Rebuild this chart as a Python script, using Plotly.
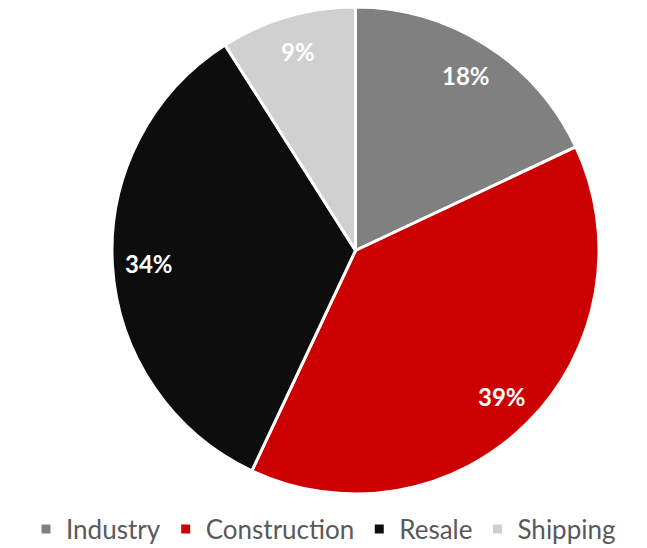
import math
import plotly.graph_objects as go

# Share of revenue by segment
segments = ["Industry", "Construction", "Resale", "Shipping"]
shares = [18, 39, 34, 9]
colors = ["#808080", "#CC0000", "#0D0D0D", "#D0D0D0"]

W, H = 647, 548
# pie placement (pixels)
cx, cy, R = 355.5, 250.5, 243.5
label_r = 0.85

fig = go.Figure(
    go.Pie(
        labels=segments,
        values=shares,
        sort=False,
        direction="clockwise",
        rotation=0,
        marker=dict(colors=colors, line=dict(color="white", width=3)),
        textinfo="none",
        hoverinfo="label+percent",
        domain=dict(x=[(cx - R) / W, (cx + R) / W], y=[1 - (cy + R) / H, 1 - (cy - R) / H]),
    )
)

# percentage labels on each slice's mid-angle
total = sum(shares)
acc = 0
annotations = []
for name, v in zip(segments, shares):
    mid = (acc + v / 2) / total * 2 * math.pi
    acc += v
    px = cx + label_r * R * math.sin(mid)
    py = cy - label_r * R * math.cos(mid)
    annotations.append(
        dict(
            x=px / W, y=1 - py / H, xref="paper", yref="paper",
            text=f"<b>{round(v / total * 100)}%</b>",
            showarrow=False,
            font=dict(family="Lato", size=24, color="white"),
            xanchor="center", yanchor="middle",
        )
    )

fig.update_layout(
    width=W, height=H,
    margin=dict(l=0, r=0, t=0, b=0, autoexpand=False),
    paper_bgcolor="white",
    plot_bgcolor="white",
    annotations=annotations,
    showlegend=True,
    legend=dict(
        orientation="h",
        x=0.5, xanchor="center",
        y=1 - 529 / H, yanchor="middle",
        font=dict(family="Lato", size=26, color="#595959"),
        itemwidth=30,
        traceorder="normal",
    ),
)

fig.write_html("out.html")
